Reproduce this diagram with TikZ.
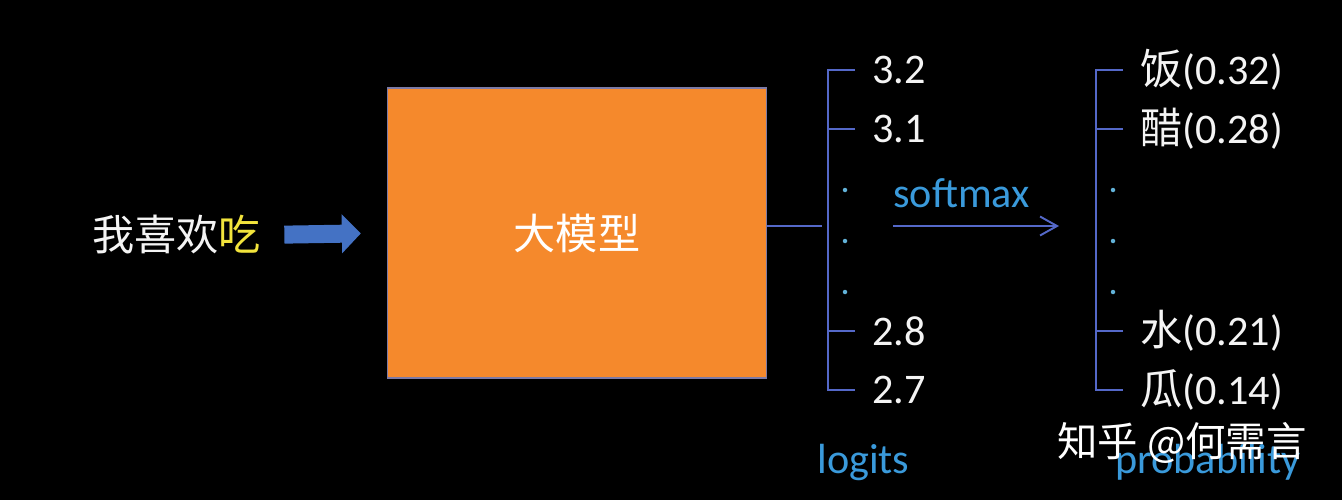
\documentclass[tikz,border=0pt]{standalone}
\usepackage{fontspec}
\setmainfont{Carlito}
\newfontfamily\cjk{Noto Sans CJK SC}
\usetikzlibrary{arrows.meta}

\definecolor{boxorange}{HTML}{F5892C}
\definecolor{boxedge}{HTML}{7C7AA6}
\definecolor{arrowblue}{HTML}{4472C4}
\definecolor{linkblue}{HTML}{5468C8}
\definecolor{textblue}{HTML}{3A9ADB}
\definecolor{dotblue}{HTML}{62B2D8}
\definecolor{eatyellow}{HTML}{F2E43C}
\definecolor{softwhite}{HTML}{F4F4F4}

\tikzset{
  txt/.style={inner sep=0pt,text=softwhite},
  lbl/.style={inner sep=0pt,text=textblue},
  model/.style={draw=boxedge,line width=0.8pt,fill=boxorange,minimum width=7.58cm,minimum height=5.8cm,text=white},
  brk/.style={draw=linkblue,line width=1.1pt},
  bigarrow/.style={draw=arrowblue,line width=0.36cm,-{Triangle[length=0.38cm,width=0.76cm]}},
}

\begin{document}
\begin{tikzpicture}[x=0.02cm,y=-0.02cm,font=\fontsize{24}{28}\selectfont]
     \def\brkin{0.34cm}
     \def\brkout{0.88cm}
     \newcommand\bracketcol[4]{%{top}{second}{third}{bottom}
     \draw[brk] ([xshift=-\brkin]#1.west) -- ([xshift=-\brkout]#1.west) -- ([xshift=-\brkout]#4.west) -- ([xshift=-\brkin]#4.west);
     \draw[brk] ([xshift=-\brkin]#2.west) -- ([xshift=-\brkout]#2.west);
     \draw[brk] ([xshift=-\brkin]#3.west) -- ([xshift=-\brkout]#3.west);
     }

     \fill[black] (0,0) rectangle (1342,500);

     % input and model
     \node[txt,anchor=west] (in) at (92,235) {\cjk 我喜欢\textcolor{eatyellow}{吃}};
     \node[model] (llm) at (577,233) {\cjk 大模型};
     \draw[bigarrow,shorten <=0.46cm,shorten >=0.52cm] (in.east) -- (llm.west);

     % logits
     \node[txt,anchor=west] (v1) at (872,70) {3.2};
     \node[txt,anchor=west] (v2) at (872,129) {3.1};
     \node[txt,anchor=west] (v3) at (872,331) {2.8};
     \node[txt,anchor=west] (v4) at (872,390) {2.7};
     \bracketcol{v1}{v2}{v3}{v4}
     \foreach \yy in {190,241,292} {\fill[dotblue] (845,\yy) circle (0.045cm);}
     \coordinate (lmid) at (822,226);
     \draw[brk] (llm.east |- lmid) -- (lmid);
     \node[lbl,anchor=base west] (logits) at (817,473) {logits};

     % softmax
     \coordinate (sm0) at (893,226);
     \coordinate (sm1) at (1059,226);
     \draw[brk,-{Straight Barb[length=0.34cm,width=0.38cm]}] (sm0) -- (sm1);
     \node[lbl,anchor=base west] (smlab) at (893,207) {softmax};

     % probability
     \node[txt,anchor=west] (p1) at (1140,70) {{\cjk 饭}(0.32)};
     \node[txt,anchor=west] (p2) at (1140,129) {{\cjk 醋}(0.28)};
     \node[txt,anchor=west] (p3) at (1140,331) {{\cjk 水}(0.21)};
     \node[txt,anchor=west] (p4) at (1140,390) {{\cjk 瓜}(0.14)};
     \bracketcol{p1}{p2}{p3}{p4}
     \foreach \yy in {190,241,292} {\fill[dotblue] (1113,\yy) circle (0.045cm);}
     \node[lbl,anchor=base west] (prob) at (1115,473) {probability};

     \node[txt,anchor=west,text=white,font=\fontsize{23}{27}\selectfont] (mark) at (1057,443) {\cjk 知乎 @何需言};
\end{tikzpicture}
\end{document}
